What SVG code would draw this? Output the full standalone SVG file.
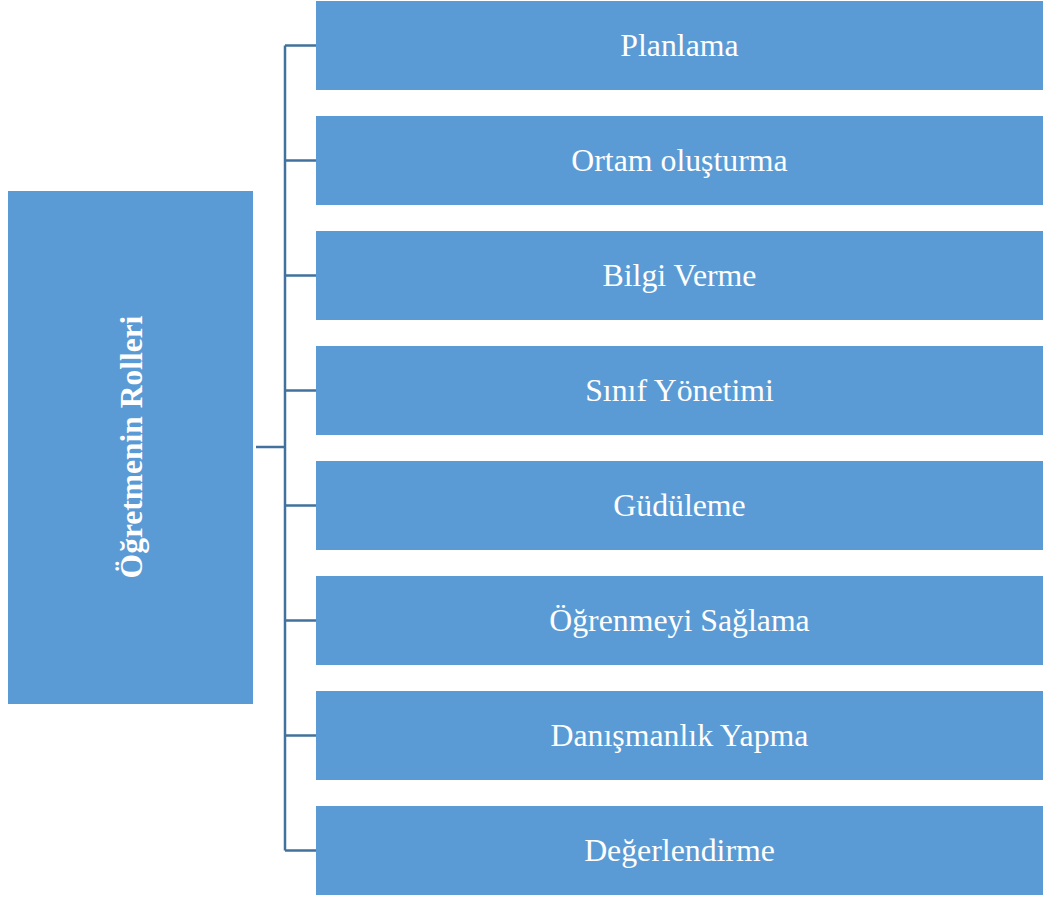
<svg xmlns="http://www.w3.org/2000/svg" width="1044" height="900" viewBox="0 0 1044 900">
<style>
.box{fill:#5b9bd5;}
.lbl{font-family:"Liberation Serif","Times New Roman",serif;font-size:31.8px;fill:#ffffff;text-anchor:middle;}
.root{font-family:"Liberation Serif","Times New Roman",serif;font-size:31.5px;font-weight:bold;fill:#ffffff;text-anchor:middle;}
.con{stroke:#41719c;stroke-width:2.5;fill:none;}
</style>
<rect width="1044" height="900" fill="#ffffff"/>
<g id="connectors">
<path class="con" d="M256 447H285M285 45.5V850.5M285 45.5H316M285 160.5H316M285 275.5H316M285 390.5H316M285 505.5H316M285 620.5H316M285 735.5H316M285 850.5H316"/>
</g>
<g id="root">
<rect class="box" x="8" y="191" width="245" height="513"/>
<text class="root" transform="translate(142 447) rotate(-90)">Öğretmenin Rolleri</text>
</g>
<g id="n1"><rect class="box" x="316" y="1" width="727" height="89"/><text class="lbl" x="679.5" y="56">Planlama</text></g>
<g id="n2"><rect class="box" x="316" y="116" width="727" height="89"/><text class="lbl" x="679.5" y="171">Ortam oluşturma</text></g>
<g id="n3"><rect class="box" x="316" y="231" width="727" height="89"/><text class="lbl" x="679.5" y="286">Bilgi Verme</text></g>
<g id="n4"><rect class="box" x="316" y="346" width="727" height="89"/><text class="lbl" x="679.5" y="401">Sınıf Yönetimi</text></g>
<g id="n5"><rect class="box" x="316" y="461" width="727" height="89"/><text class="lbl" x="679.5" y="516">Güdüleme</text></g>
<g id="n6"><rect class="box" x="316" y="576" width="727" height="89"/><text class="lbl" x="679.5" y="631">Öğrenmeyi Sağlama</text></g>
<g id="n7"><rect class="box" x="316" y="691" width="727" height="89"/><text class="lbl" x="679.5" y="746">Danışmanlık Yapma</text></g>
<g id="n8"><rect class="box" x="316" y="806" width="727" height="89"/><text class="lbl" x="679.5" y="861">Değerlendirme</text></g>
</svg>
